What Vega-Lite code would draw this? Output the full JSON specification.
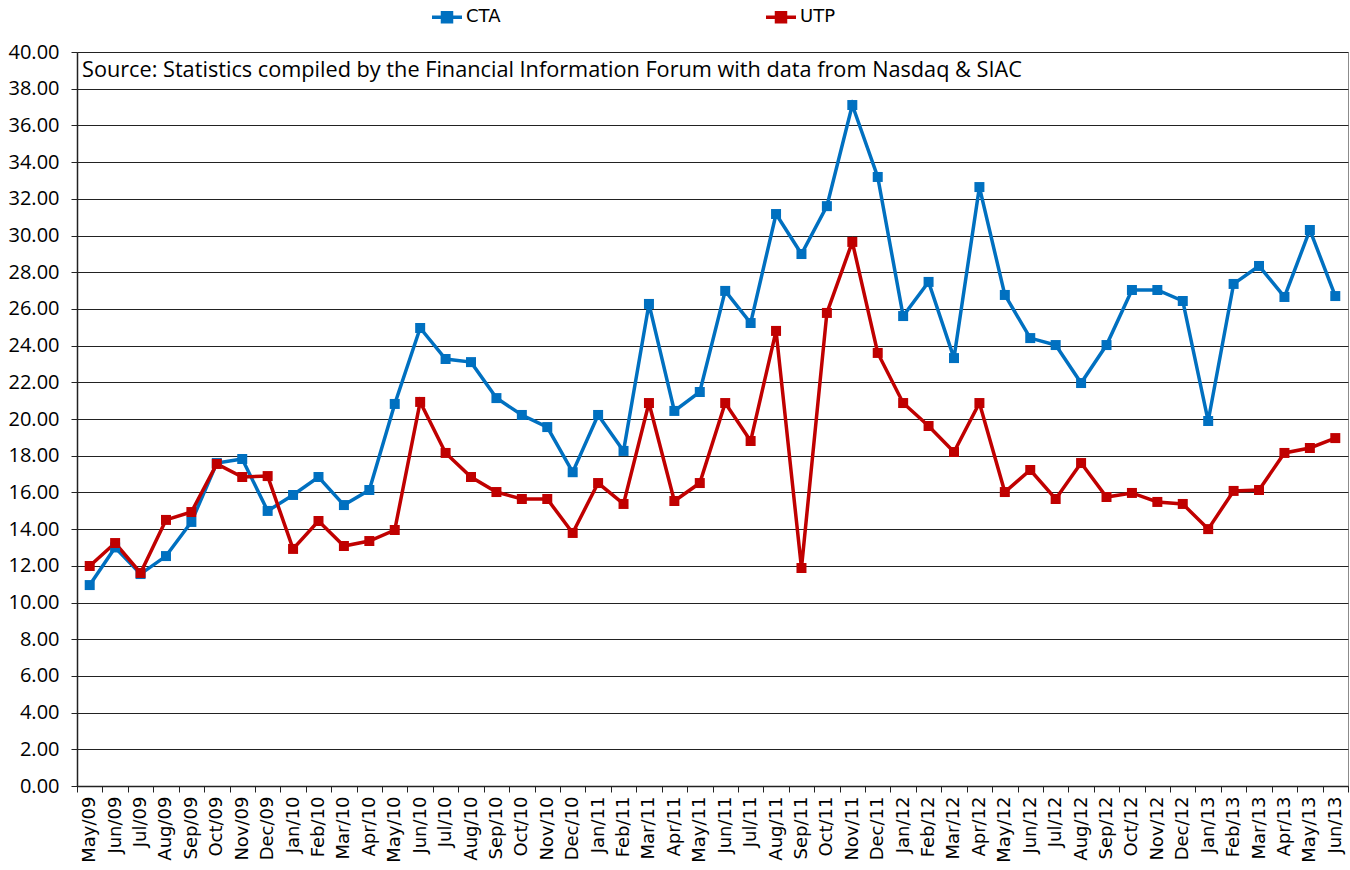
{
  "$schema": "https://vega.github.io/schema/vega-lite/v6.json",
  "width": 1271,
  "height": 734,
  "autosize": "none",
  "padding": {"left": 77, "top": 52, "right": 2, "bottom": 84},
  "background": "white",
  "config": {
    "view": {"stroke": "#8c8c8c", "strokeWidth": 1},
    "axis": {"domainColor": "#222", "tickColor": "#222", "gridColor": "#222", "labelColor": "#000"}
  },
  "datasets": {
    "src": [
      {"note": "Source: Statistics compiled by the Financial Information Forum with data from Nasdaq & SIAC"}
    ]
  },
  "data": {
    "values": [
      {"month": "May/09", "series": "CTA", "value": 10.95},
      {"month": "Jun/09", "series": "CTA", "value": 13.0},
      {"month": "Jul/09", "series": "CTA", "value": 11.55},
      {"month": "Aug/09", "series": "CTA", "value": 12.53},
      {"month": "Sep/09", "series": "CTA", "value": 14.39},
      {"month": "Oct/09", "series": "CTA", "value": 17.6},
      {"month": "Nov/09", "series": "CTA", "value": 17.82},
      {"month": "Dec/09", "series": "CTA", "value": 14.99},
      {"month": "Jan/10", "series": "CTA", "value": 15.86},
      {"month": "Feb/10", "series": "CTA", "value": 16.84},
      {"month": "Mar/10", "series": "CTA", "value": 15.31},
      {"month": "Apr/10", "series": "CTA", "value": 16.13},
      {"month": "May/10", "series": "CTA", "value": 20.82},
      {"month": "Jun/10", "series": "CTA", "value": 24.96},
      {"month": "Jul/10", "series": "CTA", "value": 23.27},
      {"month": "Aug/10", "series": "CTA", "value": 23.1},
      {"month": "Sep/10", "series": "CTA", "value": 21.14},
      {"month": "Oct/10", "series": "CTA", "value": 20.22},
      {"month": "Nov/10", "series": "CTA", "value": 19.56},
      {"month": "Dec/10", "series": "CTA", "value": 17.1},
      {"month": "Jan/11", "series": "CTA", "value": 20.22},
      {"month": "Feb/11", "series": "CTA", "value": 18.26},
      {"month": "Mar/11", "series": "CTA", "value": 26.27},
      {"month": "Apr/11", "series": "CTA", "value": 20.44},
      {"month": "May/11", "series": "CTA", "value": 21.47},
      {"month": "Jun/11", "series": "CTA", "value": 26.98},
      {"month": "Jul/11", "series": "CTA", "value": 25.23},
      {"month": "Aug/11", "series": "CTA", "value": 31.17},
      {"month": "Sep/11", "series": "CTA", "value": 28.99},
      {"month": "Oct/11", "series": "CTA", "value": 31.6},
      {"month": "Nov/11", "series": "CTA", "value": 37.11},
      {"month": "Dec/11", "series": "CTA", "value": 33.19},
      {"month": "Jan/12", "series": "CTA", "value": 25.61},
      {"month": "Feb/12", "series": "CTA", "value": 27.47},
      {"month": "Mar/12", "series": "CTA", "value": 23.32},
      {"month": "Apr/12", "series": "CTA", "value": 32.64},
      {"month": "May/12", "series": "CTA", "value": 26.76},
      {"month": "Jun/12", "series": "CTA", "value": 24.41},
      {"month": "Jul/12", "series": "CTA", "value": 24.03},
      {"month": "Aug/12", "series": "CTA", "value": 21.96},
      {"month": "Sep/12", "series": "CTA", "value": 24.03},
      {"month": "Oct/12", "series": "CTA", "value": 27.03},
      {"month": "Nov/12", "series": "CTA", "value": 27.03},
      {"month": "Dec/12", "series": "CTA", "value": 26.43},
      {"month": "Jan/13", "series": "CTA", "value": 19.89},
      {"month": "Feb/13", "series": "CTA", "value": 27.36},
      {"month": "Mar/13", "series": "CTA", "value": 28.34},
      {"month": "Apr/13", "series": "CTA", "value": 26.65},
      {"month": "May/13", "series": "CTA", "value": 30.3},
      {"month": "Jun/13", "series": "CTA", "value": 26.7},
      {"month": "May/09", "series": "UTP", "value": 11.99},
      {"month": "Jun/09", "series": "UTP", "value": 13.24},
      {"month": "Jul/09", "series": "UTP", "value": 11.61},
      {"month": "Aug/09", "series": "UTP", "value": 14.5},
      {"month": "Sep/09", "series": "UTP", "value": 14.93},
      {"month": "Oct/09", "series": "UTP", "value": 17.55},
      {"month": "Nov/09", "series": "UTP", "value": 16.84},
      {"month": "Dec/09", "series": "UTP", "value": 16.89},
      {"month": "Jan/10", "series": "UTP", "value": 12.92},
      {"month": "Feb/10", "series": "UTP", "value": 14.44},
      {"month": "Mar/10", "series": "UTP", "value": 13.08},
      {"month": "Apr/10", "series": "UTP", "value": 13.35},
      {"month": "May/10", "series": "UTP", "value": 13.95},
      {"month": "Jun/10", "series": "UTP", "value": 20.93},
      {"month": "Jul/10", "series": "UTP", "value": 18.15},
      {"month": "Aug/10", "series": "UTP", "value": 16.84},
      {"month": "Sep/10", "series": "UTP", "value": 16.02},
      {"month": "Oct/10", "series": "UTP", "value": 15.64},
      {"month": "Nov/10", "series": "UTP", "value": 15.64},
      {"month": "Dec/10", "series": "UTP", "value": 13.79},
      {"month": "Jan/11", "series": "UTP", "value": 16.51},
      {"month": "Feb/11", "series": "UTP", "value": 15.37},
      {"month": "Mar/11", "series": "UTP", "value": 20.87},
      {"month": "Apr/11", "series": "UTP", "value": 15.53},
      {"month": "May/11", "series": "UTP", "value": 16.51},
      {"month": "Jun/11", "series": "UTP", "value": 20.87},
      {"month": "Jul/11", "series": "UTP", "value": 18.8},
      {"month": "Aug/11", "series": "UTP", "value": 24.8},
      {"month": "Sep/11", "series": "UTP", "value": 11.88},
      {"month": "Oct/11", "series": "UTP", "value": 25.78},
      {"month": "Nov/11", "series": "UTP", "value": 29.65},
      {"month": "Dec/11", "series": "UTP", "value": 23.6},
      {"month": "Jan/12", "series": "UTP", "value": 20.87},
      {"month": "Feb/12", "series": "UTP", "value": 19.62},
      {"month": "Mar/12", "series": "UTP", "value": 18.2},
      {"month": "Apr/12", "series": "UTP", "value": 20.87},
      {"month": "May/12", "series": "UTP", "value": 16.02},
      {"month": "Jun/12", "series": "UTP", "value": 17.22},
      {"month": "Jul/12", "series": "UTP", "value": 15.64},
      {"month": "Aug/12", "series": "UTP", "value": 17.6},
      {"month": "Sep/12", "series": "UTP", "value": 15.75},
      {"month": "Oct/12", "series": "UTP", "value": 15.97},
      {"month": "Nov/12", "series": "UTP", "value": 15.48},
      {"month": "Dec/12", "series": "UTP", "value": 15.37},
      {"month": "Jan/13", "series": "UTP", "value": 14.0},
      {"month": "Feb/13", "series": "UTP", "value": 16.08},
      {"month": "Mar/13", "series": "UTP", "value": 16.13},
      {"month": "Apr/13", "series": "UTP", "value": 18.15},
      {"month": "May/13", "series": "UTP", "value": 18.42},
      {"month": "Jun/13", "series": "UTP", "value": 18.96}
    ]
  },
  "encoding": {
    "y": {
      "type": "quantitative",
      "scale": {"domain": [0, 40], "nice": false, "zero": true},
      "axis": {
        "title": null, "values": [0,2,4,6,8,10,12,14,16,18,20,22,24,26,28,30,32,34,36,38,40], "tickCount": 40,
        "format": ".2f", "labelFont": "Open Sans", "labelFontSize": 20, "labelPadding": 12, "labelOverlap": false,
        "tickSize": 6, "grid": true, "gridWidth": 1, "domainWidth": 1.5
      }
    }
  },
  "layer": [
    {
      "mark": {"type": "line", "strokeWidth": 3.5, "point": {"shape": "square", "size": 100, "filled": true}},
      "encoding": {
        "x": {
          "field": "month", "type": "ordinal", "sort": null,
          "scale": {"paddingInner": 0, "paddingOuter": 0},
          "axis": {
            "title": null, "labelAngle": -90, "labelAlign": "right", "labelBaseline": "middle",
            "labelFont": "DejaVu Sans", "labelFontSize": 18, "labelPadding": 4, "labelOverlap": false,
            "tickBand": "extent", "tickSize": 6, "grid": false, "domainWidth": 1.5
          }
        },
        "y": {"field": "value"},
        "color": {
          "field": "series", "type": "nominal",
          "scale": {"domain": ["CTA", "UTP"], "range": ["#0070C0", "#C00000"]},
          "legend": {
            "title": null, "orient": "none", "legendX": 353, "legendY": -52, "direction": "horizontal",
            "symbolType": "M-1,0H1M-0.3,-0.3H0.3V0.3H-0.3Z", "symbolSize": 900, "symbolStrokeWidth": 3.5,
            "labelFont": "DejaVu Sans", "labelFontSize": 18, "labelColor": "#000", "columnPadding": 258, "labelOffset": 2
          }
        }
      }
    },
    {
      "data": {"name": "src"},
      "mark": {"type": "text", "align": "left", "baseline": "middle", "font": "Open Sans", "fontSize": 21.7, "dx": 5, "color": "#000"},
      "encoding": {
        "x": {"datum": "May/09", "type": "ordinal", "bandPosition": 0},
        "y": {"datum": 39},
        "text": {"field": "note"}
      }
    }
  ]
}
